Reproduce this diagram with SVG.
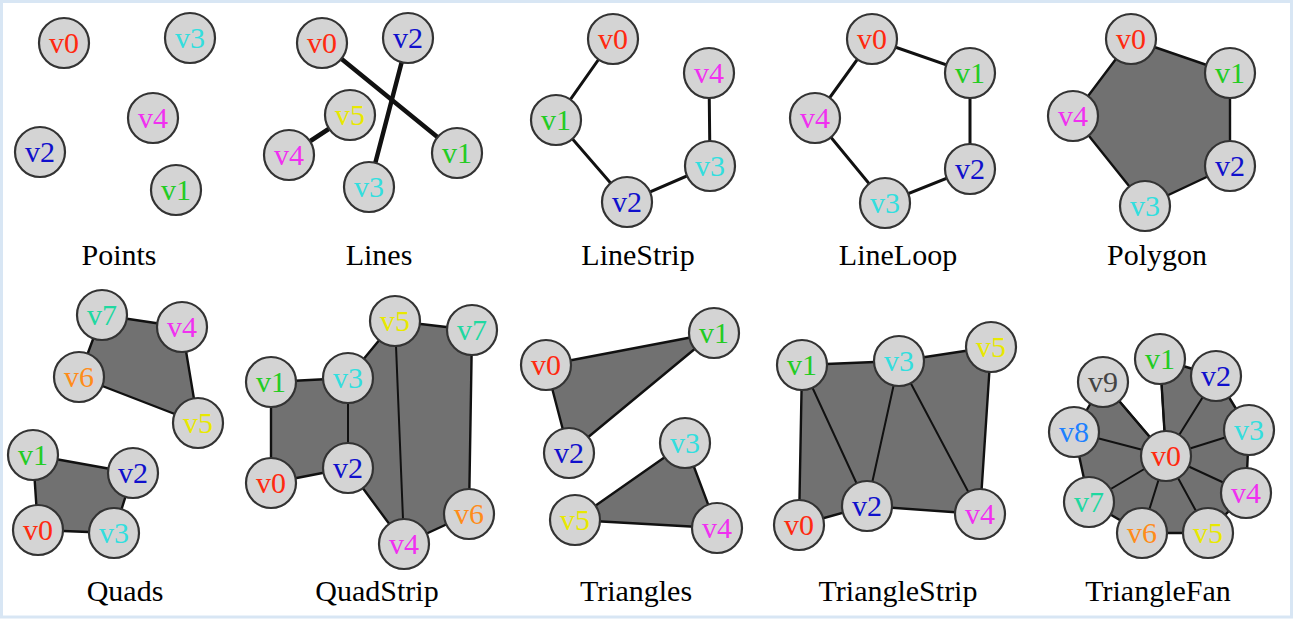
<svg xmlns="http://www.w3.org/2000/svg" width="1296" height="620" viewBox="0 0 1296 620">
<style>
.n circle{fill:#d4d4d4;stroke:#333;stroke-width:2.2}
.n text{font-family:"Liberation Serif","Times New Roman",serif;font-size:30px;text-anchor:middle}
.t{font-family:"Liberation Serif","Times New Roman",serif;font-size:30px;text-anchor:middle;fill:#000}
.c0{fill:#ff2a10}.c1{fill:#22cc22}.c2{fill:#1010cc}.c3{fill:#33dede}.c4{fill:#f030f0}
.c5{fill:#e8e800}.c6{fill:#ff8c1a}.c7{fill:#20d8a0}.c8{fill:#1e80ff}.c9{fill:#444}
.face{fill:#717171;stroke:#111;stroke-width:2.4;stroke-linejoin:round}
.e{stroke:#111;fill:none;stroke-linecap:round}
.thick{stroke-width:4.5}.mid{stroke-width:3}.thin{stroke-width:2}
</style>
<rect x="1.5" y="1.5" width="1290" height="615.5" fill="#fff" stroke="#d8e6f4" stroke-width="3"/>

<g id="faces">
<polygon class="face" points="1131,39 1230,73 1230,166 1145,206 1073,116"/>
<polygon class="face" points="102,315 182,327 198,423 79,377"/>
<polygon class="face" points="33,455 133,473 114,533 38,530"/>
<polygon class="face" points="271,483 271,382 348,378 395,321 472,330 469,514 404,544 348,468"/>
<polygon class="face" points="546,365 714,333 569,453"/>
<polygon class="face" points="685,443 717,528 575,520"/>
<polygon class="face" points="799,525 802,365 899,361 991,347 980,514 867,506"/>
<polygon class="face" points="1166,456 1160,359 1216,376 1249,430 1246,493 1208,533 1142,533 1089,502 1074,432 1103,382"/>
</g>

<g id="connectors">
<line class="e thick" x1="322" y1="43" x2="457" y2="153"/>
<line class="e thick" x1="408" y1="38" x2="369" y2="187"/>
<line class="e thick" x1="289" y1="155" x2="350" y2="115"/>
<polyline class="e mid" points="613,39 556,120 627,202 710,166 709,73"/>
<polygon class="e mid" points="872,39 970,73 970,169 885,203 815,118"/>
<line class="e thin" x1="348" y1="378" x2="348" y2="468"/>
<line class="e thin" x1="395" y1="321" x2="404" y2="544"/>
<line class="e thin" x1="802" y1="365" x2="867" y2="506"/>
<line class="e thin" x1="899" y1="361" x2="867" y2="506"/>
<line class="e thin" x1="899" y1="361" x2="980" y2="514"/>
<g class="e thin">
<line x1="1166" y1="456" x2="1160" y2="359"/>
<line x1="1166" y1="456" x2="1216" y2="376"/>
<line x1="1166" y1="456" x2="1249" y2="430"/>
<line x1="1166" y1="456" x2="1246" y2="493"/>
<line x1="1166" y1="456" x2="1208" y2="533"/>
<line x1="1166" y1="456" x2="1142" y2="533"/>
<line x1="1166" y1="456" x2="1089" y2="502"/>
<line x1="1166" y1="456" x2="1074" y2="432"/>
<line x1="1166" y1="456" x2="1103" y2="382"/>
</g>
</g>

<!-- Points -->
<g id="points-v0" class="n"><circle cx="64" cy="43" r="25"/><text x="64" y="53" class="c0">v0</text></g>
<g id="points-v3" class="n"><circle cx="190" cy="38" r="25"/><text x="190" y="48" class="c3">v3</text></g>
<g id="points-v4" class="n"><circle cx="153" cy="118" r="25"/><text x="153" y="128" class="c4">v4</text></g>
<g id="points-v2" class="n"><circle cx="40" cy="152" r="25"/><text x="40" y="162" class="c2">v2</text></g>
<g id="points-v1" class="n"><circle cx="176" cy="190" r="25"/><text x="176" y="200" class="c1">v1</text></g>

<!-- Lines -->
<g id="lines-v0" class="n"><circle cx="322" cy="43" r="25"/><text x="322" y="53" class="c0">v0</text></g>
<g id="lines-v2" class="n"><circle cx="408" cy="38" r="25"/><text x="408" y="48" class="c2">v2</text></g>
<g id="lines-v5" class="n"><circle cx="350" cy="115" r="25"/><text x="350" y="125" class="c5">v5</text></g>
<g id="lines-v4" class="n"><circle cx="289" cy="155" r="25"/><text x="289" y="165" class="c4">v4</text></g>
<g id="lines-v3" class="n"><circle cx="369" cy="187" r="25"/><text x="369" y="197" class="c3">v3</text></g>
<g id="lines-v1" class="n"><circle cx="457" cy="153" r="25"/><text x="457" y="163" class="c1">v1</text></g>

<!-- LineStrip -->
<g id="linestrip-v0" class="n"><circle cx="613" cy="39" r="25"/><text x="613" y="49" class="c0">v0</text></g>
<g id="linestrip-v1" class="n"><circle cx="556" cy="120" r="25"/><text x="556" y="130" class="c1">v1</text></g>
<g id="linestrip-v2" class="n"><circle cx="627" cy="202" r="25"/><text x="627" y="212" class="c2">v2</text></g>
<g id="linestrip-v3" class="n"><circle cx="710" cy="166" r="25"/><text x="710" y="176" class="c3">v3</text></g>
<g id="linestrip-v4" class="n"><circle cx="709" cy="73" r="25"/><text x="709" y="83" class="c4">v4</text></g>

<!-- LineLoop -->
<g id="lineloop-v0" class="n"><circle cx="872" cy="39" r="25"/><text x="872" y="49" class="c0">v0</text></g>
<g id="lineloop-v1" class="n"><circle cx="970" cy="73" r="25"/><text x="970" y="83" class="c1">v1</text></g>
<g id="lineloop-v2" class="n"><circle cx="970" cy="169" r="25"/><text x="970" y="179" class="c2">v2</text></g>
<g id="lineloop-v3" class="n"><circle cx="885" cy="203" r="25"/><text x="885" y="213" class="c3">v3</text></g>
<g id="lineloop-v4" class="n"><circle cx="815" cy="118" r="25"/><text x="815" y="128" class="c4">v4</text></g>

<!-- Polygon -->
<g id="polygon-v0" class="n"><circle cx="1131" cy="39" r="25"/><text x="1131" y="49" class="c0">v0</text></g>
<g id="polygon-v1" class="n"><circle cx="1230" cy="73" r="25"/><text x="1230" y="83" class="c1">v1</text></g>
<g id="polygon-v2" class="n"><circle cx="1230" cy="166" r="25"/><text x="1230" y="176" class="c2">v2</text></g>
<g id="polygon-v3" class="n"><circle cx="1145" cy="206" r="25"/><text x="1145" y="216" class="c3">v3</text></g>
<g id="polygon-v4" class="n"><circle cx="1073" cy="116" r="25"/><text x="1073" y="126" class="c4">v4</text></g>

<!-- Quads -->
<g id="quads-v7" class="n"><circle cx="102" cy="315" r="25"/><text x="102" y="325" class="c7">v7</text></g>
<g id="quads-v4" class="n"><circle cx="182" cy="327" r="25"/><text x="182" y="337" class="c4">v4</text></g>
<g id="quads-v6" class="n"><circle cx="79" cy="377" r="25"/><text x="79" y="387" class="c6">v6</text></g>
<g id="quads-v5" class="n"><circle cx="198" cy="423" r="25"/><text x="198" y="433" class="c5">v5</text></g>
<g id="quads-v1" class="n"><circle cx="33" cy="455" r="25"/><text x="33" y="465" class="c1">v1</text></g>
<g id="quads-v2" class="n"><circle cx="133" cy="473" r="25"/><text x="133" y="483" class="c2">v2</text></g>
<g id="quads-v0" class="n"><circle cx="38" cy="530" r="25"/><text x="38" y="540" class="c0">v0</text></g>
<g id="quads-v3" class="n"><circle cx="114" cy="533" r="25"/><text x="114" y="543" class="c3">v3</text></g>

<!-- QuadStrip -->
<g id="quadstrip-v1" class="n"><circle cx="271" cy="382" r="25"/><text x="271" y="392" class="c1">v1</text></g>
<g id="quadstrip-v3" class="n"><circle cx="348" cy="378" r="25"/><text x="348" y="388" class="c3">v3</text></g>
<g id="quadstrip-v5" class="n"><circle cx="395" cy="321" r="25"/><text x="395" y="331" class="c5">v5</text></g>
<g id="quadstrip-v7" class="n"><circle cx="472" cy="330" r="25"/><text x="472" y="340" class="c7">v7</text></g>
<g id="quadstrip-v0" class="n"><circle cx="271" cy="483" r="25"/><text x="271" y="493" class="c0">v0</text></g>
<g id="quadstrip-v2" class="n"><circle cx="348" cy="468" r="25"/><text x="348" y="478" class="c2">v2</text></g>
<g id="quadstrip-v4" class="n"><circle cx="404" cy="544" r="25"/><text x="404" y="554" class="c4">v4</text></g>
<g id="quadstrip-v6" class="n"><circle cx="469" cy="514" r="25"/><text x="469" y="524" class="c6">v6</text></g>

<!-- Triangles -->
<g id="triangles-v0" class="n"><circle cx="546" cy="365" r="25"/><text x="546" y="375" class="c0">v0</text></g>
<g id="triangles-v1" class="n"><circle cx="714" cy="333" r="25"/><text x="714" y="343" class="c1">v1</text></g>
<g id="triangles-v2" class="n"><circle cx="569" cy="453" r="25"/><text x="569" y="463" class="c2">v2</text></g>
<g id="triangles-v3" class="n"><circle cx="685" cy="443" r="25"/><text x="685" y="453" class="c3">v3</text></g>
<g id="triangles-v5" class="n"><circle cx="575" cy="520" r="25"/><text x="575" y="530" class="c5">v5</text></g>
<g id="triangles-v4" class="n"><circle cx="717" cy="528" r="25"/><text x="717" y="538" class="c4">v4</text></g>

<!-- TriangleStrip -->
<g id="tristrip-v1" class="n"><circle cx="802" cy="365" r="25"/><text x="802" y="375" class="c1">v1</text></g>
<g id="tristrip-v3" class="n"><circle cx="899" cy="361" r="25"/><text x="899" y="371" class="c3">v3</text></g>
<g id="tristrip-v5" class="n"><circle cx="991" cy="347" r="25"/><text x="991" y="357" class="c5">v5</text></g>
<g id="tristrip-v0" class="n"><circle cx="799" cy="525" r="25"/><text x="799" y="535" class="c0">v0</text></g>
<g id="tristrip-v2" class="n"><circle cx="867" cy="506" r="25"/><text x="867" y="516" class="c2">v2</text></g>
<g id="tristrip-v4" class="n"><circle cx="980" cy="514" r="25"/><text x="980" y="524" class="c4">v4</text></g>

<!-- TriangleFan -->
<g id="trifan-v1" class="n"><circle cx="1160" cy="359" r="25"/><text x="1160" y="369" class="c1">v1</text></g>
<g id="trifan-v2" class="n"><circle cx="1216" cy="376" r="25"/><text x="1216" y="386" class="c2">v2</text></g>
<g id="trifan-v3" class="n"><circle cx="1249" cy="430" r="25"/><text x="1249" y="440" class="c3">v3</text></g>
<g id="trifan-v4" class="n"><circle cx="1246" cy="493" r="25"/><text x="1246" y="503" class="c4">v4</text></g>
<g id="trifan-v5" class="n"><circle cx="1208" cy="533" r="25"/><text x="1208" y="543" class="c5">v5</text></g>
<g id="trifan-v6" class="n"><circle cx="1142" cy="533" r="25"/><text x="1142" y="543" class="c6">v6</text></g>
<g id="trifan-v7" class="n"><circle cx="1089" cy="502" r="25"/><text x="1089" y="512" class="c7">v7</text></g>
<g id="trifan-v8" class="n"><circle cx="1074" cy="432" r="25"/><text x="1074" y="442" class="c8">v8</text></g>
<g id="trifan-v9" class="n"><circle cx="1103" cy="382" r="25"/><text x="1103" y="392" class="c9">v9</text></g>
<g id="trifan-v0" class="n"><circle cx="1166" cy="456" r="25"/><text x="1166" y="466" class="c0">v0</text></g>

<g id="titles">
<text class="t" x="119" y="265">Points</text>
<text class="t" x="379" y="265">Lines</text>
<text class="t" x="638" y="265">LineStrip</text>
<text class="t" x="898" y="265">LineLoop</text>
<text class="t" x="1157" y="265">Polygon</text>
<text class="t" x="125" y="601">Quads</text>
<text class="t" x="377" y="601">QuadStrip</text>
<text class="t" x="636" y="601">Triangles</text>
<text class="t" x="898" y="601">TriangleStrip</text>
<text class="t" x="1158" y="601">TriangleFan</text>
</g>
</svg>
